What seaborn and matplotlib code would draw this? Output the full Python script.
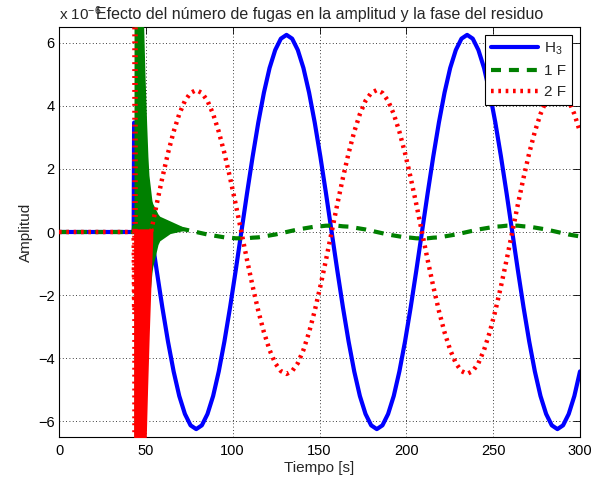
import numpy as np
import pandas as pd
import matplotlib
matplotlib.use("Agg")
import matplotlib.pyplot as plt
import seaborn as sns

# residue signals, in units of 1e-6
# samples: 0 s, 43 s, then every 3.25 s from 43.25 s up to 300 s
t_start = [0.0, 43.0]
t_step = 3.25
t_first = 43.25
n_samples = 80

h3 = [0.00, 0.00,
      3.47, 2.39, 1.22, 0.00, -1.22, -2.39, -3.47, -4.42, -5.20, -5.77, -6.13,
      -6.25, -6.13, -5.77, -5.20, -4.42, -3.47, -2.39, -1.22, 0.00, 1.22, 2.39, 3.47,
      4.42, 5.20, 5.77, 6.13, 6.25, 6.13, 5.77, 5.20, 4.42, 3.47, 2.39, 1.22,
      0.00, -1.22, -2.39, -3.47, -4.42, -5.20, -5.77, -6.13,
      -6.25, -6.13, -5.77, -5.20, -4.42, -3.47, -2.39, -1.22, 0.00, 1.22, 2.39, 3.47,
      4.42, 5.20, 5.77, 6.13, 6.25, 6.13, 5.77, 5.20, 4.42, 3.47, 2.39, 1.22,
      0.00, -1.22, -2.39, -3.47, -4.42, -5.20, -5.77, -6.13,
      -6.25, -6.13, -5.77, -5.20, -4.42]

f1 = [0.00, 0.00,
      0.17, 0.18, 0.20, 0.20, 0.20, 0.18, 0.17, 0.14, 0.11, 0.08, 0.04,
      0.00, -0.04, -0.08, -0.11, -0.14, -0.17, -0.18, -0.20, -0.20, -0.20, -0.18, -0.17,
      -0.14, -0.11, -0.08, -0.04, 0.00, 0.04, 0.08, 0.11, 0.14, 0.17, 0.18, 0.20,
      0.20, 0.20, 0.18, 0.17, 0.14, 0.11, 0.08, 0.04,
      0.00, -0.04, -0.08, -0.11, -0.14, -0.17, -0.18, -0.20, -0.20, -0.20, -0.18, -0.17,
      -0.14, -0.11, -0.08, -0.04, 0.00, 0.04, 0.08, 0.11, 0.14, 0.17, 0.18, 0.20,
      0.20, 0.20, 0.18, 0.17, 0.14, 0.11, 0.08, 0.04,
      0.00, -0.04, -0.08, -0.11, -0.14]

f2 = [0.00, 0.00,
      -2.50, -1.72, -0.88, 0.00, 0.88, 1.72, 2.50, 3.18, 3.74, 4.16, 4.41,
      4.50, 4.41, 4.16, 3.74, 3.18, 2.50, 1.72, 0.88, 0.00, -0.88, -1.72, -2.50,
      -3.18, -3.74, -4.16, -4.41, -4.50, -4.41, -4.16, -3.74, -3.18, -2.50, -1.72, -0.88,
      0.00, 0.88, 1.72, 2.50, 3.18, 3.74, 4.16, 4.41,
      4.50, 4.41, 4.16, 3.74, 3.18, 2.50, 1.72, 0.88, 0.00, -0.88, -1.72, -2.50,
      -3.18, -3.74, -4.16, -4.41, -4.50, -4.41, -4.16, -3.74, -3.18, -2.50, -1.72, -0.88,
      0.00, 0.88, 1.72, 2.50, 3.18, 3.74, 4.16, 4.41,
      4.50, 4.41, 4.16, 3.74, 3.18]

# fast oscillating transient after the leak starts (envelopes)
burst_t_1f = [43.2, 48.5, 49.5, 50.5, 51.2, 51.8, 53.5, 54.0, 57.0, 58.0, 64.0, 72.0]
burst_hi_1f = [7.0, 7.0, 5.0, 3.4, 2.4, 1.8, 1.0, 0.9, 0.57, 0.5, 0.35, 0.15]
burst_lo_1f = [-7.0, -7.0, -7.0, -5.0, -2.9, -2.3, -1.3, -1.1, -0.4, -0.28, -0.05, 0.05]

burst_t_2f = [43.0, 46.0, 50.0, 51.0, 52.0, 53.0, 54.0]
burst_hi_2f = [0.1, 0.1, 0.1, 0.1, 0.1, 0.1, 0.15]
burst_lo_2f = [-7.0, -7.0, -7.0, -5.0, -3.2, -1.6, -0.2]

band_t_2f = [43.7, 43.7]
band_y_2f = [-7.0, 7.0]

x_ticks = [0, 50, 100, 150, 200, 250, 300]
y_ticks = [-6, -4, -2, 0, 2, 4, 6]

time_s = np.concatenate([t_start, t_first + t_step * np.arange(n_samples)])
df = pd.DataFrame({"t": time_s, "H3": h3, "1F": f1, "2F": f2})

sns.set_theme(style="white")
plt.rcParams["font.family"] = ["Liberation Sans", "DejaVu Sans"]
plt.rcParams["mathtext.fontset"] = "custom"
plt.rcParams["mathtext.rm"] = "Liberation Sans"
plt.rcParams["mathtext.default"] = "regular"

fig = plt.figure(figsize=(5.92, 4.87), dpi=100)
ax = fig.add_axes([59 / 592, 1 - 437 / 487, 521 / 592, 410 / 487])

blue = (0, 0, 1)
green = (0, 0.5, 0)
red = (1, 0, 0)

sns.lineplot(data=df, x="t", y="H3", ax=ax, color=blue, lw=3,
             estimator=None, sort=False, zorder=2)
h_line = ax.lines[-1]

sns.lineplot(data=df, x="t", y="1F", ax=ax, color=green, lw=3,
             estimator=None, sort=False, zorder=3)
g_line = ax.lines[-1]
g_line.set_linestyle((0, (2.4, 1.9)))
ax.fill_between(burst_t_1f, burst_lo_1f, burst_hi_1f, color=green, lw=0, zorder=3)

sns.lineplot(data=df, x="t", y="2F", ax=ax, color=red, lw=3.2,
             estimator=None, sort=False, zorder=4)
r_line = ax.lines[-1]
r_line.set_linestyle((0, (0.6, 1.05)))
ax.fill_between(burst_t_2f, burst_lo_2f, burst_hi_2f, color=red, lw=0, zorder=4)
ax.plot(band_t_2f, band_y_2f, color=red, lw=4, linestyle=(0, (0.35, 0.9)), zorder=4)

ax.set_xlim(0, 300)
ax.set_ylim(-6.5, 6.5)
ax.set_xticks(x_ticks)
ax.set_yticks(y_ticks)
ax.set_xticklabels([str(v) for v in x_ticks])
ax.set_yticklabels([f"\u2212{abs(v)}" if v < 0 else str(v) for v in y_ticks])
ax.tick_params(direction="in", top=True, right=True, length=5, width=0.6,
               labelsize=10.5, colors="black", pad=5)
ax.tick_params(axis="y", pad=3)
ax.grid(True, linestyle=(0, (1, 3)), color="black", linewidth=0.6)
ax.set_axisbelow(True)
for s in ax.spines.values():
    s.set_color("black")
    s.set_linewidth(0.8)

ax.set_xlabel("Tiempo [s]", fontsize=11, labelpad=2)
ax.set_ylabel("Amplitud", fontsize=11, labelpad=4)
ax.set_title("Efecto del número de fugas en la amplitud y la fase del residuo",
             fontsize=11.5, pad=6)
ax.text(0, 1.017, "x 10$^{-6}$", transform=ax.transAxes, ha="left",
        va="baseline", fontsize=11)

leg = ax.legend([h_line, g_line, r_line], ["H$_3$", "1 F", "2 F"],
                loc="upper right", fontsize=11, handlelength=3.1,
                handletextpad=0.4, labelspacing=0.45, borderpad=0.4,
                fancybox=False, framealpha=1, edgecolor="black")
leg.get_frame().set_linewidth(0.8)

fig.savefig("out.png", dpi=100)
